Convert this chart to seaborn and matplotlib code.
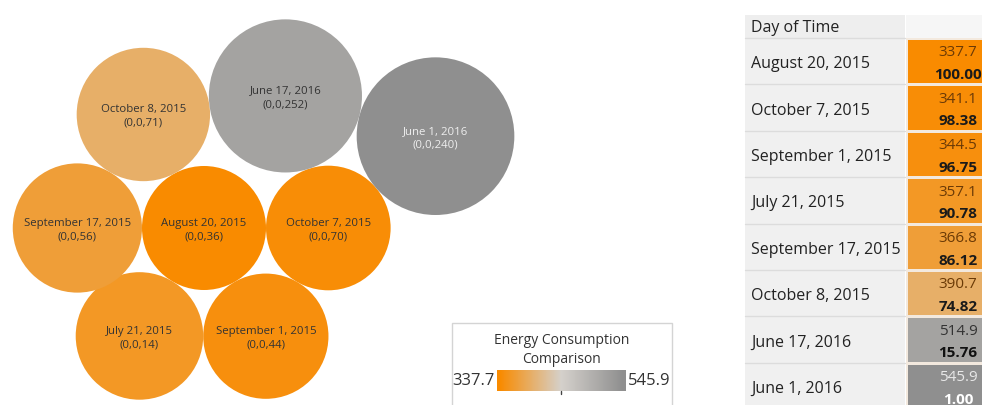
import numpy as np
import pandas as pd
import matplotlib
matplotlib.use("Agg")
import matplotlib.pyplot as plt
from matplotlib.colors import LinearSegmentedColormap
from matplotlib.patches import Rectangle
import seaborn as sns

# Data (table order)
days = ["August 20, 2015", "October 7, 2015", "September 1, 2015", "July 21, 2015",
        "September 17, 2015", "October 8, 2015", "June 17, 2016", "June 1, 2016"]
energy = [337.7, 341.1, 344.5, 357.1, 366.8, 390.7, 514.9, 545.9]
score = [100.00, 98.38, 96.75, 90.78, 86.12, 74.82, 15.76, 1.00]
codes = [36, 70, 44, 14, 56, 71, 252, 240]

sns.set_theme(style="white")
plt.rcParams["font.family"] = ["Open Sans", "DejaVu Sans"]

cmap = LinearSegmentedColormap.from_list(
    "orange_gray", [(0.0, "#F98B00"), (0.5, "#D5D1CC"), (1.0, "#8F8F8F")])
vmin, vmax = min(energy), max(energy)

df = pd.DataFrame({"day": days, "energy": energy, "score": score, "code": codes})
# bubble area proportional to value (radius in pixels)
df["r"] = 3.374 * np.sqrt(df["energy"])
rad = dict(zip(df["day"], df["r"]))


def tangent(c1, r1, c2, r2, r, side):
    # centre of a circle of radius r touching two placed circles
    c1, c2 = np.asarray(c1, float), np.asarray(c2, float)
    d = np.linalg.norm(c2 - c1)
    u = (c2 - c1) / d
    a, b = r1 + r, r2 + r
    x = (a * a - b * b + d * d) / (2 * d)
    h = np.sqrt(max(a * a - x * x, 0))
    perp = np.array([-u[1], u[0]])
    return c1 + x * u + side * h * perp


# simple packing: each bubble touches two already placed ones
pos = {}
pos["August 20, 2015"] = np.array([204.0, 229.0])
pos["October 7, 2015"] = pos["August 20, 2015"] + [rad["August 20, 2015"] + rad["October 7, 2015"], 0]
pos["September 17, 2015"] = pos["August 20, 2015"] - [rad["August 20, 2015"] + rad["September 17, 2015"], 0]
order = [("September 1, 2015", "August 20, 2015", "October 7, 2015", 1),
         ("July 21, 2015", "August 20, 2015", "September 1, 2015", 1),
         ("October 8, 2015", "September 17, 2015", "August 20, 2015", -1),
         ("June 17, 2016", "October 8, 2015", "October 7, 2015", -1),
         ("June 1, 2016", "June 17, 2016", "October 7, 2015", -1)]
for name, a, b, side in order:
    pos[name] = tangent(pos[a], rad[a], pos[b], rad[b], rad[name], side)

df["x"] = [pos[d][0] for d in df["day"]]
df["y"] = [pos[d][1] for d in df["day"]]
df["s"] = (2 * df["r"] * 0.72) ** 2  # marker area in points^2 at 100 dpi

fig = plt.figure(figsize=(9.82, 4.06), dpi=100)
ax = fig.add_axes([0, 0, 1, 1])

sns.scatterplot(data=df, x="x", y="y", hue="energy", palette=cmap, hue_norm=(vmin, vmax),
                size="s", sizes=(df["s"].min(), df["s"].max()), legend=False,
                linewidth=0, alpha=1, ax=ax)

for _, row in df.iterrows():
    frac = (row["energy"] - vmin) / (vmax - vmin)
    tc = "#eeeeee" if frac > 0.95 else "#333333"
    ax.text(row["x"], row["y"] + 1, f"{row['day']}\n(0,0,{row['code']})", ha="center",
            va="center", fontsize=8.2, color=tc, linespacing=1.35)

# colour legend
ax.add_patch(Rectangle((452, 324), 220, 90, facecolor="white", edgecolor="#d4d4d4", lw=1, zorder=2))
ax.text(562, 350, "Energy Consumption\nComparison", ha="center", va="center",
        fontsize=10, color="#333333", linespacing=1.3, zorder=4)
steps = np.linspace(0, 1, 24).reshape(1, -1)
ax.imshow(steps, cmap=cmap, extent=(497, 626, 392, 371), aspect="auto",
          interpolation="bilinear", zorder=3)
ax.plot([561, 561], [392, 395], color="#444444", lw=1, zorder=4)
ax.text(495, 381, f"{vmin:.1f}", ha="right", va="center", fontsize=12, color="#333333", zorder=4)
ax.text(628, 381, f"{vmax:.1f}", ha="left", va="center", fontsize=12, color="#333333", zorder=4)

# table: label column
row_top, row_h = 39, 46.4
ax.add_patch(Rectangle((745, 16), 160, 23, facecolor="#eeeeee", edgecolor="none"))
ax.add_patch(Rectangle((906, 16), 80, 23, facecolor="#f6f6f6", edgecolor="none"))
ax.text(751, 28, "Day of Time", ha="left", va="center", fontsize=11.5, color="#222222")
for i, d in enumerate(days):
    top = row_top + i * row_h
    ax.add_patch(Rectangle((745, top + 1), 160, row_h - 1, facecolor="#f0f0f0", edgecolor="none"))
    ax.plot([745, 905], [top, top], color="#dcdcdc", lw=1)
    ax.text(751, top + row_h / 2 + 2, d, ha="left", va="center", fontsize=11.5, color="#222222")

ax.set_xlim(0, 982)
ax.set_ylim(406, 0)
ax.axis("off")

# table: value column as a heatmap
hax = fig.add_axes([906 / 982, (406 - (row_top + 8 * row_h)) / 406, 104 / 982, 8 * row_h / 406])
vals = np.array(energy).reshape(-1, 1)
sns.heatmap(vals, cmap=cmap, vmin=vmin, vmax=vmax, cbar=False, linewidths=1,
            linecolor="#f3e9de", ax=hax, xticklabels=False, yticklabels=False)
for i, (e, sc) in enumerate(zip(energy, score)):
    frac = (e - vmin) / (vmax - vmin)
    if frac > 0.95:
        c1, c2 = "#e8e8e8", "white"
    elif frac > 0.5:
        c1, c2 = "#333333", "#111111"
    else:
        c1, c2 = "#6b3a06", "#1a1a1a"
    hax.text(0.5, i + 14 / row_h, f"{e:.1f}", ha="center", va="center", fontsize=11, color=c1)
    hax.text(0.5, i + 36 / row_h, f"{sc:.2f}", ha="center", va="center", fontsize=11,
             color=c2, fontweight="bold")

fig.savefig("out.png", dpi=100)
